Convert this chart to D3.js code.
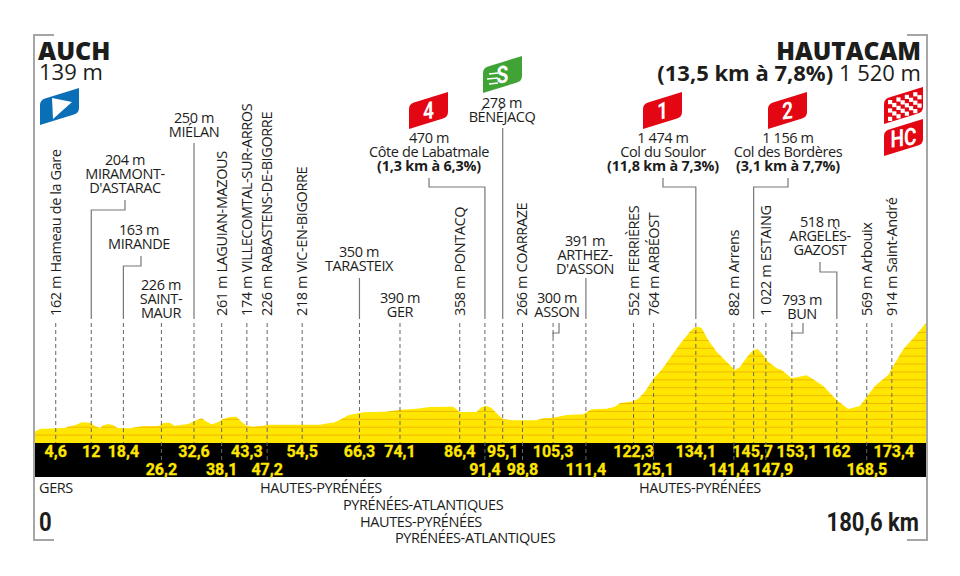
<!DOCTYPE html>
<html>
<head>
<meta charset="utf-8">
<script src="https://cdn.jsdelivr.net/npm/d3@7"></script>
<style>
    html, body { margin: 0; padding: 0; background: #fff; }
    text { font-family: "Open Sans", sans-serif; fill: #1d1d1b; }
    .place { font-size: 14.5px; letter-spacing: -0.4px; }
    .climb { font-size: 14.4px; font-weight: 700; letter-spacing: -0.2px; }
    .narrow { font-family: "Liberation Sans Narrow", "Roboto", sans-serif; font-weight: 700; }
</style>
</head>
<body>
<svg id="chart" width="960" height="576"></svg>
<script>
// profile
const profileKm = [0,1.2,4.4,6.3,7.3,8.3,9.65,11.3,12.35,13.35,14,15.05,16.05,16.9,19.4,21.8,25.2,26.2,27.5,28.5,29.55,31.25,32.6,33.95,34.95,36,37,38.3,39.7,41,42,43.05,44.4,46.1,47.45,51.15,57.9,59.9,60.6,61.9,63.6,66.65,71.4,74.1,77.45,80.15,84.9,86.2,89.6,90.6,91.6,92.65,93.65,95,97,101.75,103.1,105.1,107.8,111.2,112.9,115.9,117.6,118.6,121.3,122.3,123.7,125.35,127.05,130.75,133.1,134,135.15,136.5,138.2,141.9,142.9,144.25,145.6,146.6,147.65,148.65,150.35,151.35,153.4,156.4,157.75,159.8,162.5,164.85,167.2,168.55,170.25,172.95,174.3,176,178,180.6];
const profileAlt = [139,177,186,190,215,224,262,258,215,190,224,241,224,190,186,211,215,253,258,215,228,241,283,312,270,237,258,304,329,334,270,220,207,215,232,232,232,253,258,291,351,389,397,422,435,456,460,393,393,452,473,439,376,300,287,287,313,321,355,363,427,435,460,503,528,557,650,811,925,1250,1432,1474,1461,1305,1157,925,959,1081,1178,1187,1115,1030,946,925,819,857,807,722,545,431,469,579,722,862,1009,1187,1326,1520];

// passage points
const stopKm =    [4.6,12,18.4,26.2,32.6,38.1,43.3,47.2,54.5,66.3,74.1,86.4,91.4,95.1,98.8,105.3,111.4,122.3,125.1,134.1,141.4,145.7,147.9,153.1,162,168.5,173.4];
const stopLabel = ["4,6","12","18,4","26,2","32,6","38,1","43,3","47,2","54,5","66,3","74,1","86,4","91,4","95,1","98,8","105,3","111,4","122,3","125,1","134,1","141,4","145,7","147,9","153,1","162","168,5","173,4"];
const stopRow =   [0,0,0,1,0,1,0,1,0,0,0,0,1,0,1,0,1,0,1,0,1,0,1,0,0,1,0];

// the printed km and the drawn position differ by a pixel or so
const stopNudge = [-1,-2,-1.5,-2,-1,-0.5,-1,0,-1,-2,0,-1,-0.5,-1,0.5,-1,1.7,-4.5,1.7,-0.5,1.5,0,1.4,1.7,2.7,0.5,1.4];
const stopShift = [0,0,0,0,0,0,0,0,0,0,0,0,0,0,0,0,0,0,0,0,-5,-1,7,5,0,0,2];

const verticalNames = [
    {km: 4.6, text: "162 m Hameau de la Gare"},
    {km: 38.1, text: "261 m LAGUIAN-MAZOUS"},
    {km: 43.3, text: "174 m VILLECOMTAL-SUR-ARROS"},
    {km: 47.2, text: "226 m RABASTENS-DE-BIGORRE"},
    {km: 54.5, text: "218 m VIC-EN-BIGORRE"},
    {km: 86.4, text: "358 m PONTACQ"},
    {km: 98.8, text: "266 m COARRAZE"},
    {km: 122.3, text: "552 m FERRIÈRES"},
    {km: 125.1, text: "764 m ARBÉOST"},
    {km: 141.4, text: "882 m Arrens"},
    {km: 147.9, text: "1 022 m ESTAING"},
    {km: 168.5, text: "569 m Arbouix"},
    {km: 173.4, text: "914 m Saint-André"}
];

// horizontal labels, x and y are the first baseline
const namedLabels = [
    {x: 125, y: 165, lines: ["204 m", "MIRAMONT-", "D'ASTARAC"]},
    {x: 139, y: 235, lines: ["163 m", "MIRANDE"]},
    {x: 161, y: 290, lines: ["226 m", "SAINT-", "MAUR"]},
    {x: 194, y: 123, lines: ["250 m", "MIÉLAN"]},
    {x: 359, y: 257, lines: ["350 m", "TARASTEIX"]},
    {x: 400, y: 303, lines: ["390 m", "GER"]},
    {x: 429, y: 143, lines: ["470 m", "Côte de Labatmale"], bold: "(1,3 km à 6,3%)"},
    {x: 502, y: 108, lines: ["278 m", "BÉNÉJACQ"]},
    {x: 557, y: 303, lines: ["300 m", "ASSON"]},
    {x: 585, y: 246, lines: ["391 m", "ARTHEZ-", "D'ASSON"]},
    {x: 663, y: 143, lines: ["1 474 m", "Col du Soulor"], bold: "(11,8 km à 7,3%)"},
    {x: 788, y: 143, lines: ["1 156 m", "Col des Bordères"], bold: "(3,1 km à 7,7%)"},
    {x: 802, y: 305, lines: ["793 m", "BUN"]},
    {x: 820, y: 227, lines: ["518 m", "ARGELÈS-", "GAZOST"]}
];

// solid leaders: from under a label, optional elbow, down to the km
const leaders = [
    {km: 12, x: 125, top: 200, elbow: 210},
    {km: 18.4, x: 141, top: 256, elbow: 266},
    {km: 32.6, top: 143},
    {km: 66.3, top: 278},
    {km: 91.4, x: 429, top: 178, elbow: 187},
    {km: 95.1, top: 128},
    {km: 105.3, x: 559, top: 323, elbow: 333},
    {km: 111.4, top: 278},
    {km: 134.1, x: 663, top: 178, elbow: 187},
    {km: 145.7, x: 788, top: 178, elbow: 187},
    {km: 153.1, x: 803, top: 323, elbow: 333},
    {km: 162, x: 820, top: 262, elbow: 272}
];

const departments = [
    {x: 39, y: 493, text: "GERS"},
    {x: 260, y: 493, text: "HAUTES-PYRÉNÉES"},
    {x: 343, y: 510, text: "PYRÉNÉES-ATLANTIQUES"},
    {x: 360, y: 527, text: "HAUTES-PYRÉNÉES"},
    {x: 395, y: 543, text: "PYRÉNÉES-ATLANTIQUES"},
    {x: 639, y: 493, text: "HAUTES-PYRÉNÉES"}
];

const stripeAlts = d3.range(100, 1600, 100);

const blue = "#0b6fb8", red = "#e30613", green = "#3fa435", yellow = "#ffe600", stripe = "#f0b800";

const svg = d3.select("#chart");
const xScale = d3.scaleLinear().domain([0, 180.6]).range([34, 926]);
const yScale = d3.scaleLinear().domain([0, 1520]).range([443, 323]);
const dashTop = 323, bandTop = 443, bandBottom = 477;

function stopX(km) {
    return xScale(km) + stopNudge[stopKm.indexOf(km)];
}

// profile
const area = d3.area()
    .x(function(d, i) { return xScale(profileKm[i]); })
    .y0(bandTop)
    .y1(function(d) { return yScale(d); });

svg.append("clipPath").attr("id", "profileClip")
    .append("path").attr("d", area(profileAlt));
svg.append("path").attr("d", area(profileAlt)).attr("fill", yellow);
svg.append("g").attr("clip-path", "url(#profileClip)")
    .selectAll("line").data(stripeAlts).enter().append("line")
    .attr("x1", xScale(0)).attr("x2", xScale(180.6))
    .attr("y1", function(d) { return yScale(d); })
    .attr("y2", function(d) { return yScale(d); })
    .attr("stroke", stripe).attr("stroke-width", 1);

// black km band
svg.append("rect").attr("x", xScale(0)).attr("y", bandTop)
    .attr("width", xScale(180.6) - xScale(0)).attr("height", bandBottom - bandTop)
    .attr("fill", "#000");

// dashed part of every leader, longer for the second row
svg.append("g").selectAll("line").data(stopKm).enter().append("line")
    .attr("x1", function(d) { return stopX(d); })
    .attr("x2", function(d) { return stopX(d); })
    .attr("y1", dashTop)
    .attr("y2", function(d, i) { return stopRow[i] ? bandTop + 17 : bandTop; })
    .attr("stroke", "#666").attr("stroke-width", 1).attr("stroke-dasharray", "4 3");

// solid leaders
leaders.forEach(function(l) {
    let kx = stopX(l.km);
    let pts = l.elbow ? [[l.x, l.top], [l.x, l.elbow], [kx, l.elbow], [kx, dashTop - 4]] : [[kx, l.top], [kx, dashTop - 4]];
    if (l.elbow && l.elbow > dashTop) pts = [[l.x, l.top], [l.x, l.elbow], [kx, l.elbow], [kx, l.elbow + 4]];
    svg.append("path").attr("d", d3.line()(pts))
        .attr("fill", "none").attr("stroke", "#777").attr("stroke-width", 1.2);
});

// km labels
svg.append("g").selectAll("text").data(stopLabel).enter().append("text")
    .attr("class", "narrow")
    .attr("x", function(d, i) { return stopX(stopKm[i]) + stopShift[i]; })
    .attr("y", function(d, i) { return stopRow[i] ? 475 : 457; })
    .attr("text-anchor", "middle")
    .style("fill", yellow).style("stroke", yellow).style("stroke-width", 0.3).style("font-size", "16px")
    .text(function(d) { return d; });

// vertical names
svg.append("g").selectAll("text").data(verticalNames).enter().append("text")
    .attr("class", "place")
    .attr("transform", function(d) { return "translate(" + (stopX(d.km) + 5) + ",316) rotate(-90)"; })
    .text(function(d) { return d.text; });

// horizontal names
namedLabels.forEach(function(l) {
    let t = svg.append("g");
    l.lines.forEach(function(line, i) {
        t.append("text").attr("class", "place").attr("x", l.x).attr("y", l.y + i * 14)
            .attr("text-anchor", "middle").text(line);
    });
    if (l.bold) {
        t.append("text").attr("class", "climb").attr("x", l.x).attr("y", l.y + l.lines.length * 14)
            .attr("text-anchor", "middle").text(l.bold);
    }
});

// departments
svg.append("g").selectAll("text").data(departments).enter().append("text")
    .attr("class", "place").attr("x", function(d) { return d.x; }).attr("y", function(d) { return d.y; })
    .text(function(d) { return d.text; });

// titles
svg.append("text").attr("x", 38).attr("y", 60).style("font-size", "25px").style("font-weight", 800).text("AUCH");
svg.append("text").attr("x", 39).attr("y", 80).style("font-size", "22px").text("139 m");
svg.append("text").attr("x", 921).attr("y", 60).attr("text-anchor", "end").style("font-size", "24.5px").style("font-weight", 800).text("HAUTACAM");
let finish = svg.append("text").attr("x", 921).attr("y", 81).attr("text-anchor", "end").style("font-size", "22px");
finish.append("tspan").style("font-weight", 700).text("(13,5 km à 7,8%) ");
finish.append("tspan").text("1 520 m");
svg.append("text").attr("class", "narrow").attr("transform", "translate(39,531) scale(0.85,1)").style("font-size", "26px").text("0");
svg.append("text").attr("class", "narrow").attr("transform", "translate(919,531) scale(0.85,1)").attr("text-anchor", "end").style("font-size", "26px").text("180,6 km");

// grey corner frame
[[[54, 35], [34, 35], [34, 540], [54, 540]], [[907, 35], [927, 35], [927, 540], [907, 540]]].forEach(function(p) {
    svg.append("path").attr("d", d3.line()(p)).attr("fill", "none").attr("stroke", "#a6a6a6").attr("stroke-width", 2);
});

// flags
function flagPath(x, y, w, h) {
    let side = h - 12;
    return "M" + x + "," + (y + h) + "L" + x + "," + (y + 17) + "Q" + x + "," + (y + 12) + " " + (x + 5) + "," + (y + 10.5)
        + "L" + (x + w) + "," + y + "L" + (x + w) + "," + (y + side - 5) + "Q" + (x + w) + "," + (y + side) + " " + (x + w - 5) + "," + (y + side + 1.5) + "Z";
}
function flag(x, y, color, label) {
    svg.append("path").attr("d", flagPath(x, y, 39, 37)).attr("fill", color);
    if (label) {
        svg.append("text").attr("class", "narrow")
            .attr("transform", "translate(" + (x + 19.5) + "," + (y + 27) + ") skewY(-8) scale(0.8,1)")
            .attr("text-anchor", "middle").style("fill", "#fff").style("font-size", "24px").text(label);
    }
}
flag(40, 88, blue);
svg.append("path").attr("d", "M52,98L72,102L53,119Z").attr("fill", "#fff");
flag(409, 92, red, "4");
flag(483, 56, green, "S");
[[489, 74, 498], [487, 79, 498], [489, 84, 498]].forEach(function(d) {
    svg.append("line").attr("x1", d[0]).attr("x2", d[2]).attr("y1", d[1]).attr("y2", d[1] - 1).attr("stroke", "#fff").attr("stroke-width", 1.5);
});
flag(643, 92, red, "1");
flag(768, 92, red, "2");
flag(884, 119, red, "HC");

// checkered flag
svg.append("clipPath").attr("id", "checkClip").append("path").attr("d", flagPath(884, 87, 39, 37));
let checks = svg.append("g").attr("clip-path", "url(#checkClip)");
checks.append("rect").attr("x", 884).attr("y", 87).attr("width", 39).attr("height", 37).attr("fill", red);
d3.range(0, 8).forEach(function(c) {
    d3.range(0, 5).forEach(function(r) {
        if ((c + r) % 2 == 0) {
            let cx = 888 + c * 4.2, cy = 100 - c * 1.3 + r * 4.2;
            checks.append("rect").attr("x", cx).attr("y", cy).attr("width", 4.2).attr("height", 4.2).attr("fill", "#fff");
        }
    });
});
</script>
</body>
</html>
